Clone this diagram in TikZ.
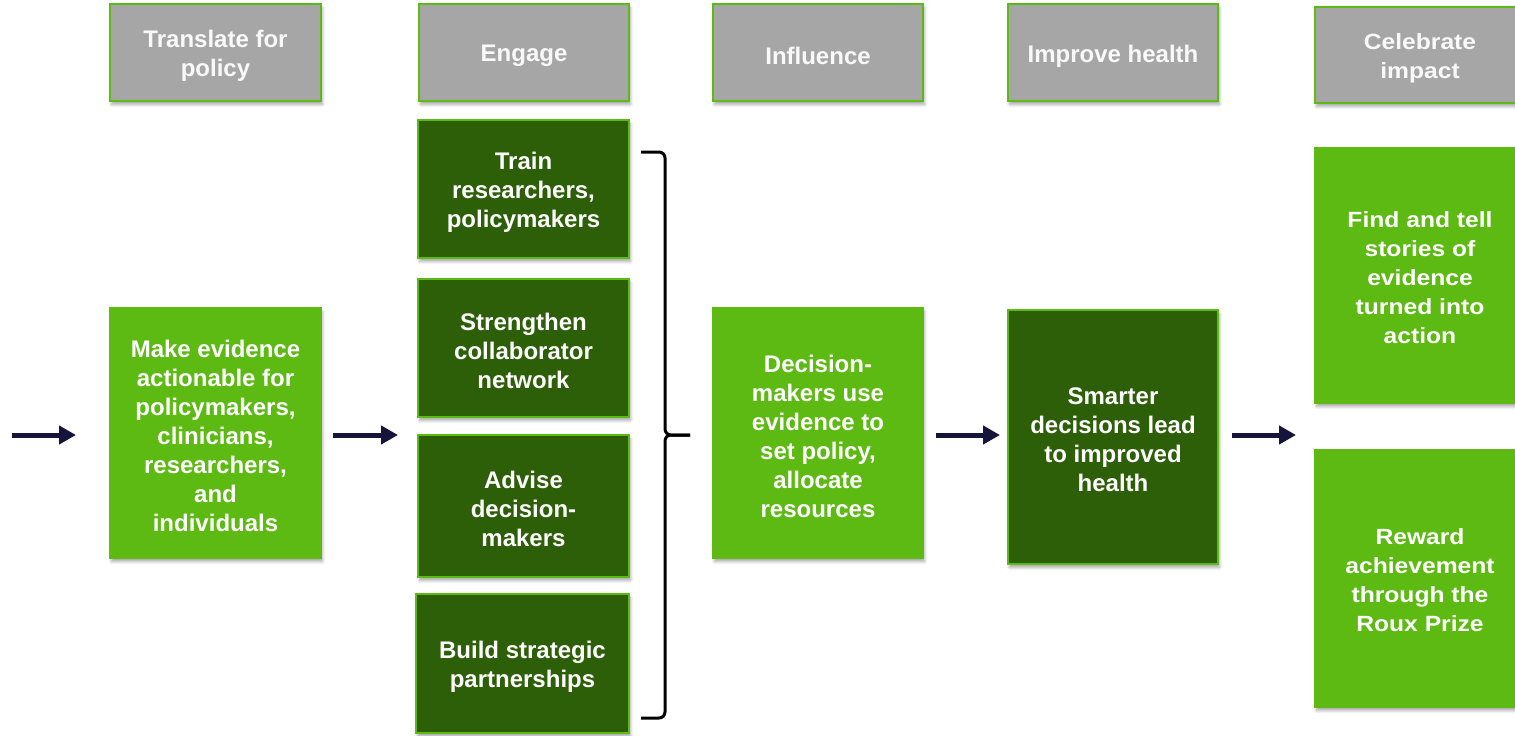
\documentclass[tikz,border=0pt]{standalone}
\usepackage{fontspec}
\setmainfont{Liberation Sans}
\newfontfamily\widefont[FakeStretch=1.12]{Liberation Sans}
\usetikzlibrary{arrows.meta,shadows.blur}
\definecolor{hdrgray}{HTML}{A6A6A6}
\definecolor{lgreen}{HTML}{5CBA12}
\definecolor{dgreen}{HTML}{2D5E08}
\definecolor{navy}{HTML}{14143C}
\tikzset{
  box/.style={draw=lgreen, line width=2pt, inner sep=0pt, outer sep=0pt,
    blur shadow={shadow xshift=1.5pt, shadow yshift=-3.5pt, shadow blur radius=3pt,
      shadow blur steps=6, shadow opacity=35}},
  hdr/.style={box, fill=hdrgray},
  lbox/.style={box, fill=lgreen},
  dbox/.style={box, fill=dgreen},
  txt/.style={inner sep=0pt, text=white, align=center, font=\fontsize{24}{29}\selectfont\bfseries},
  htxt/.style={txt, text=white!95!gray},
  wide/.style={font=\fontsize{22}{29}\selectfont\widefont\bfseries},
  arr/.style={draw=navy, line width=5pt, -{Triangle[length=17pt,width=18pt]}},
  bracepath/.style={draw=black, line width=3pt, rounded corners=6pt}
}
\begin{document}
\begin{tikzpicture}[x=1pt,y=-1pt]
\useasboundingbox (0,0) rectangle (1515,736);
% headers
\node[hdr, minimum width=211pt, minimum height=97pt] (tr) at (215.5,52.5) {};
\node[hdr, minimum width=210pt, minimum height=97pt] (en) at (524,52.5) {};
\node[hdr, minimum width=210pt, minimum height=97pt] (inf) at (818,52.5) {};
\node[hdr, minimum width=210pt, minimum height=97pt] (imp) at (1113,52.5) {};
\node[hdr, minimum width=210pt, minimum height=96pt] (cel) at (1420,55) {};
\node[htxt] (tr-t) at ([yshift=-3.5pt]tr.center) {Translate for\\policy};
\node[htxt] (en-t) at ([yshift=-3.5pt]en.center) {Engage};
\node[htxt] (inf-t) at ([yshift=-3.5pt]inf.center) {Influence};
\node[htxt] (imp-t) at ([yshift=-3.5pt]imp.center) {Improve health};
\node[htxt, wide] (cel-t) at ([yshift=-3pt]cel.center) {Celebrate\\impact};
% main boxes
\node[lbox, minimum width=211pt, minimum height=250pt] (mk) at (215.5,433) {};
\node[dbox, minimum width=211pt, minimum height=138pt] (train) at (523.5,189) {};
\node[dbox, minimum width=211pt, minimum height=138pt] (str) at (523.5,348) {};
\node[dbox, minimum width=211pt, minimum height=142pt] (adv) at (523.5,506) {};
\node[dbox, minimum width=213pt, minimum height=139pt] (bld) at (522.5,663.5) {};
\node[lbox, minimum width=210pt, minimum height=250pt] (dec) at (818,433) {};
\node[dbox, minimum width=210pt, minimum height=254pt] (sm) at (1113,437) {};
\node[lbox, minimum width=210pt, minimum height=255pt] (find) at (1420,275.5) {};
\node[lbox, minimum width=210pt, minimum height=257pt] (rew) at (1420,578.5) {};
\node[txt] (mk-t) at ([yshift=-3pt]mk.center) {Make evidence\\actionable for\\policymakers,\\clinicians,\\researchers,\\and\\individuals};
\node[txt] (train-t) at ([yshift=-3pt]train.center) {Train\\researchers,\\policymakers};
\node[txt] (str-t) at ([yshift=-3pt]str.center) {Strengthen\\collaborator\\network};
\node[txt] (adv-t) at ([yshift=-3pt]adv.center) {Advise\\decision-\\makers};
\node[txt] (bld-t) at ([yshift=-3pt]bld.center) {Build strategic\\partnerships};
\node[txt] (dec-t) at ([yshift=-3pt]dec.center) {Decision-\\makers use\\evidence to\\set policy,\\allocate\\resources};
\node[txt] (sm-t) at ([yshift=-3pt]sm.center) {Smarter\\decisions lead\\to improved\\health};
\node[txt, wide] (find-t) at ([yshift=-2pt]find.center) {Find and tell\\stories of\\evidence\\turned into\\action};
\node[txt, wide] (rew-t) at ([yshift=-2pt]rew.center) {Reward\\achievement\\through the\\Roux Prize};
% brace
\coordinate (btop) at (641,152);
\coordinate (bbot) at (641,718);
\coordinate (btip) at (690,435);
\path[bracepath] (btop) -| (665,435) -- (btip);
\path[bracepath] (bbot) -| (665,435) -- (btip);
% arrows
\coordinate (s0) at (12,435);
\coordinate (ein) at (418,435);
\draw[arr, shorten >=34pt] (s0) -- (mk.west |- s0);
\draw[arr, shorten <=12pt, shorten >=20pt] (mk.east |- s0) -- (ein);
\draw[arr, shorten <=13pt, shorten >=8pt] (dec.east |- s0) -- (sm.west |- s0);
\draw[arr, shorten <=14pt, shorten >=19pt] (sm.east |- s0) -- (find.west |- s0);
\end{tikzpicture}
\end{document}
